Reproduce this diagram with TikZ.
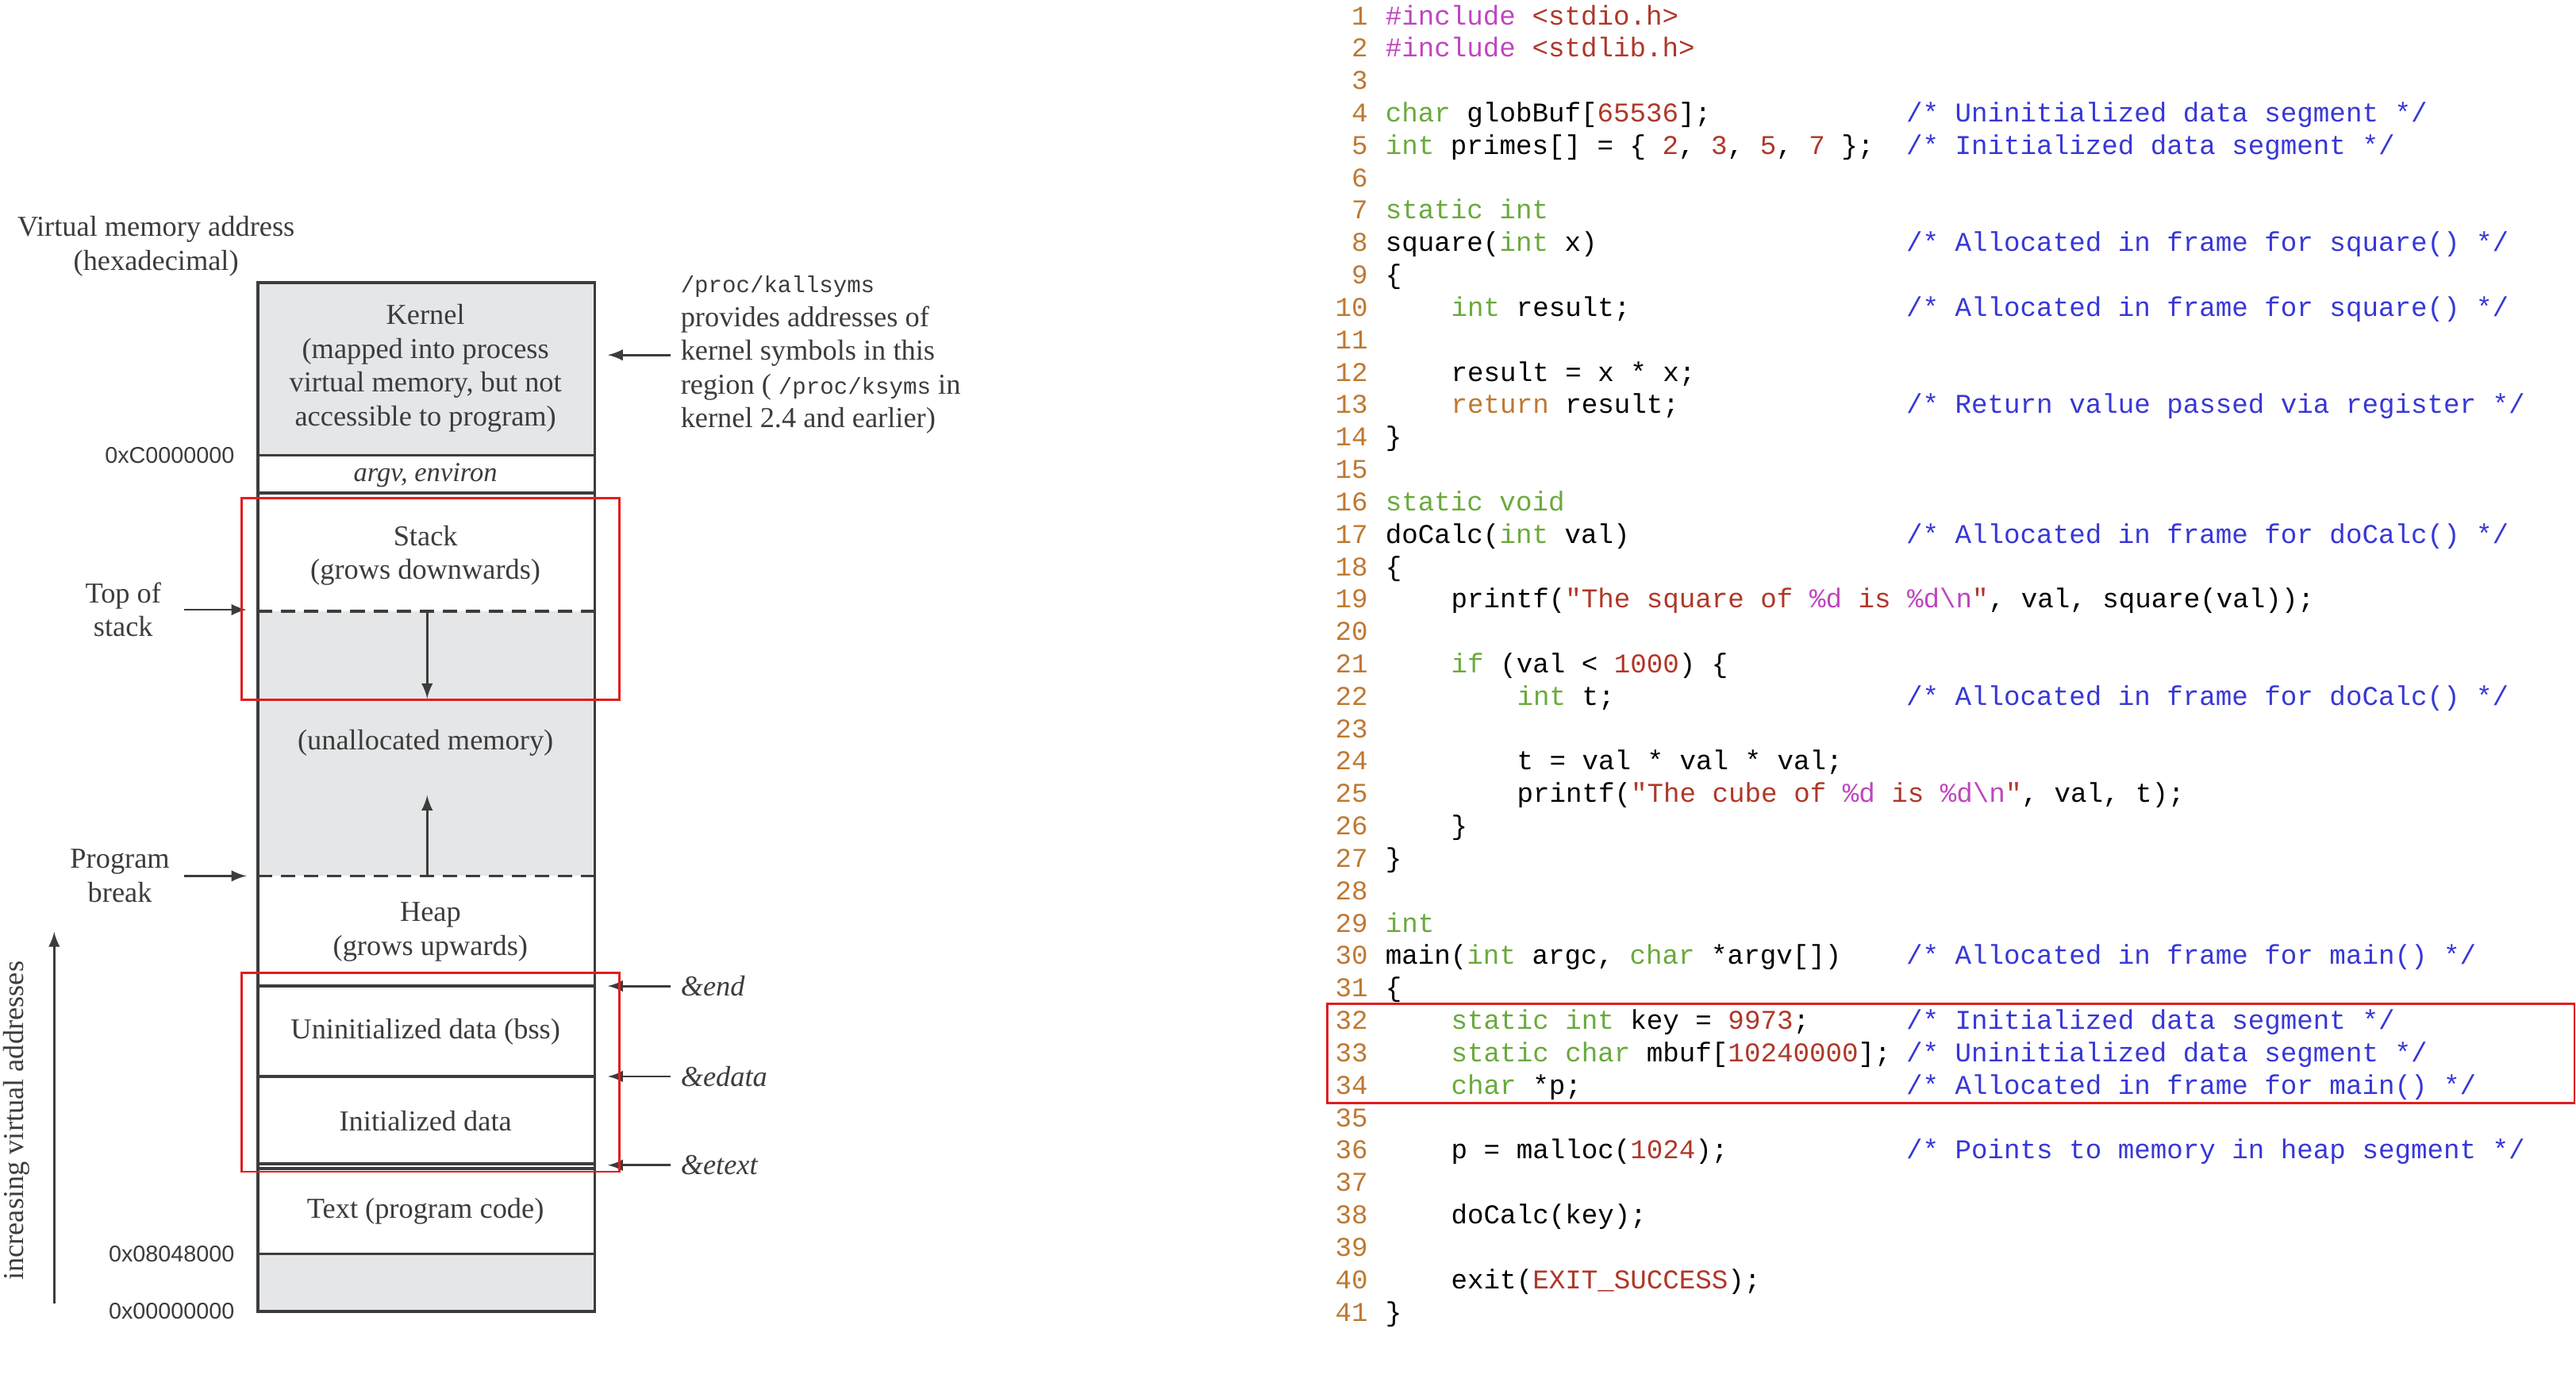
\documentclass[tikz,border=0pt]{standalone}
\usepackage{fontspec}
\setmainfont{Liberation Serif}
\setsansfont{Liberation Sans}
\setmonofont{Liberation Mono}
\usetikzlibrary{positioning}
\definecolor{kw}{RGB}{105,170,60}
\definecolor{pp}{RGB}{190,70,190}
\definecolor{num}{RGB}{175,55,40}
\definecolor{cmt}{RGB}{55,55,215}
\definecolor{lnum}{RGB}{190,120,50}
\definecolor{ink}{RGB}{60,60,60}
\definecolor{memgray}{RGB}{229,230,232}
\definecolor{mark}{RGB}{225,30,30}
\newcommand{\K}[1]{\textcolor{kw}{#1}}
\newcommand{\N}[1]{\textcolor{num}{#1}}
\newcommand{\Pp}[1]{\textcolor{pp}{#1}}
\newcommand{\R}[1]{\textcolor{lnum}{#1}}
\newcommand{\fmt}{\textcolor{pp}{\%d}}
\newcommand{\nl}{\textcolor{pp}{\textbackslash n}}
\tikzset{
  lbl/.style={font=\fontsize{10}{11.7}\selectfont, text=ink, align=center, inner sep=0pt},
  addr/.style={font=\sffamily\fontsize{7.9}{9}\selectfont, text=ink, anchor=east, inner sep=0pt},
  seg/.style={draw=ink, line width=1pt},
  ptr/.style={-latex, draw=ink, line width=0.8pt},
  hilite/.style={draw=mark, line width=0.8pt},
  code/.style={font=\ttfamily\fontsize{9.4}{11}\selectfont, anchor=base west, inner sep=0pt},
  lno/.style={font=\ttfamily\fontsize{9.4}{11}\selectfont, text=lnum, anchor=base east, inner sep=0pt},
}
% one source line: number, indent (chars), code, comment
\newcommand{\srcline}[4]{%
  \node[lno] (n#1) at (833,{15+19.72*(#1-1)}) {#1};
  \node[code] (c#1) at ({843+10*#2},{15+19.72*(#1-1)}) {#3};
  \node[code, text=cmt] (m#1) at (1160,{15+19.72*(#1-1)}) {#4};}
\begin{document}
\begin{tikzpicture}[x=0.02cm, y=-0.02cm]
\useasboundingbox (0,0) rectangle (1568,848);
% memory layout
\fill[memgray] (157,172) rectangle (362,277);
\fill[memgray] (157,372) rectangle (362,533);
\fill[memgray] (157,763) rectangle (362,798);
\draw[seg] (157,172) rectangle (362,798);
\foreach \y in {277,300,600,655,708,711,763} \draw[seg] (157,\y) -- (362,\y);
\draw[seg, dashed, dash pattern=on 5pt off 3pt] (157,372) -- (362,372);
\draw[seg, dashed, dash pattern=on 5pt off 3pt] (157,533) -- (362,533);
\node[lbl] (kernel) at (259,224) {Kernel\\(mapped into process\\virtual memory, but not\\accessible to program)};
\node[lbl, font=\itshape\fontsize{9.5}{11}\selectfont] (argv) at (259,289) {argv, environ};
\node[lbl] (stack) at (259,338) {Stack\\(grows downwards)};
\node[lbl] (unalloc) at (259,452) {(unallocated memory)};
\node[lbl] (heap) at (262,567) {Heap\\(grows upwards)};
\node[lbl] (bss) at (259,628) {Uninitialized data (bss)};
\node[lbl] (data) at (259,682) {Initialized data};
\node[lbl] (text) at (259,737) {Text (program code)};
\draw[ptr] (260,372) -- (260,425);
\draw[ptr] (260,533) -- (260,484);
% addresses
\node[lbl] (title) at (95,150) {Virtual memory address\\(hexadecimal)};
\node[addr] (a1) at (143,277) {0xC0000000};
\node[addr] (a2) at (143,763) {0x08048000};
\node[addr] (a3) at (143,798) {0x00000000};
\node[lbl] (tos) at (75,371) {Top of\\stack};
\node[lbl] (brk) at (73,533) {Program\\break};
\coordinate (tosend) at (150,371);
\coordinate (brkend) at (150,533);
\draw[ptr] (112,371) -- (tosend);
\draw[ptr] (112,533) -- (brkend);
\draw[ptr] (33,793) -- (33,567);
\node[lbl, rotate=90] (incr) at (10,682) {increasing virtual addresses};
% right-hand notes
\node[lbl, align=left, anchor=west] (ksyms) at (414,216) {{\ttfamily\fontsize{8}{10}\selectfont /proc/kallsyms}\\provides addresses of\\kernel symbols in this\\region ( {\ttfamily\fontsize{8}{10}\selectfont /proc/ksyms} in\\kernel 2.4 and earlier)};
\node[lbl, anchor=west, font=\itshape\fontsize{10}{12}\selectfont] (end) at (414,600) {\&end};
\node[lbl, anchor=west, font=\itshape\fontsize{10}{12}\selectfont] (edata) at (414,655) {\&edata};
\node[lbl, anchor=west, font=\itshape\fontsize{10}{12}\selectfont] (etext) at (414,709) {\&etext};
\draw[ptr] (408,216) -- (370,216);
\draw[ptr] (end.west) ++(-6,0) -- (370,600);
\draw[ptr] (edata.west) ++(-6,0) -- (370,655);
\draw[ptr] (etext.west) ++(-6,0) -- (370,709);
% highlights
\draw[hilite] (147,303) rectangle (377,426);
\draw[hilite] (147,592) rectangle (377,713);
\draw[hilite] (808,611) rectangle (1567,671);
% source listing
\srcline{1}{0}{\Pp{\#include} \N{<stdio.h>}}{}
\srcline{2}{0}{\Pp{\#include} \N{<stdlib.h>}}{}
\srcline{3}{0}{}{}
\srcline{4}{0}{\K{char} globBuf[\N{65536}];}{/* Uninitialized data segment */}
\srcline{5}{0}{\K{int} primes[] = \{ \N{2}, \N{3}, \N{5}, \N{7} \};}{/* Initialized data segment */}
\srcline{6}{0}{}{}
\srcline{7}{0}{\K{static int}}{}
\srcline{8}{0}{square(\K{int} x)}{/* Allocated in frame for square() */}
\srcline{9}{0}{\{}{}
\srcline{10}{4}{\K{int} result;}{/* Allocated in frame for square() */}
\srcline{11}{0}{}{}
\srcline{12}{4}{result = x * x;}{}
\srcline{13}{4}{\R{return} result;}{/* Return value passed via register */}
\srcline{14}{0}{\}}{}
\srcline{15}{0}{}{}
\srcline{16}{0}{\K{static void}}{}
\srcline{17}{0}{doCalc(\K{int} val)}{/* Allocated in frame for doCalc() */}
\srcline{18}{0}{\{}{}
\srcline{19}{4}{printf(\N{"The square of }\fmt\N{\ is\ }\fmt\nl\N{"}, val, square(val));}{}
\srcline{20}{0}{}{}
\srcline{21}{4}{\K{if} (val < \N{1000}) \{}{}
\srcline{22}{8}{\K{int} t;}{/* Allocated in frame for doCalc() */}
\srcline{23}{0}{}{}
\srcline{24}{8}{t = val * val * val;}{}
\srcline{25}{8}{printf(\N{"The cube of }\fmt\N{\ is\ }\fmt\nl\N{"}, val, t);}{}
\srcline{26}{4}{\}}{}
\srcline{27}{0}{\}}{}
\srcline{28}{0}{}{}
\srcline{29}{0}{\K{int}}{}
\srcline{30}{0}{main(\K{int} argc, \K{char} *argv[])}{/* Allocated in frame for main() */}
\srcline{31}{0}{\{}{}
\srcline{32}{4}{\K{static int} key = \N{9973};}{/* Initialized data segment */}
\srcline{33}{4}{\K{static char} mbuf[\N{10240000}];}{/* Uninitialized data segment */}
\srcline{34}{4}{\K{char} *p;}{/* Allocated in frame for main() */}
\srcline{35}{0}{}{}
\srcline{36}{4}{p = malloc(\N{1024});}{/* Points to memory in heap segment */}
\srcline{37}{0}{}{}
\srcline{38}{4}{doCalc(key);}{}
\srcline{39}{0}{}{}
\srcline{40}{4}{exit(\N{EXIT\_SUCCESS});}{}
\srcline{41}{0}{\}}{}
\end{tikzpicture}
\end{document}
